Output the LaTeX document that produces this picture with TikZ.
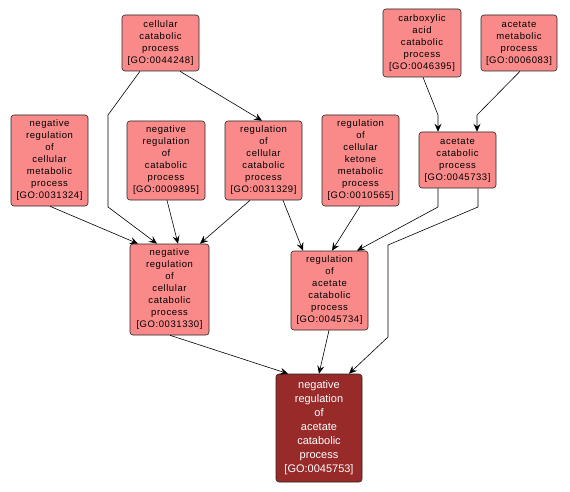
\documentclass[tikz,border=0pt]{standalone}
\usepackage{fontspec}
\setmainfont{Liberation Sans}
\newfontfamily\gofont[LetterSpace=6]{Liberation Sans}
\usetikzlibrary{arrows.meta}
\definecolor{pinkfill}{RGB}{250,138,138}
\definecolor{darkfill}{RGB}{152,42,42}
\begin{document}
\begin{tikzpicture}[x=1pt,y=-1pt,
  gobox/.style={draw=black!85, line width=0.6pt, rounded corners=3pt, fill=pinkfill,
    align=center, inner sep=0pt, font=\gofont\fontsize{9.5}{12}\selectfont, text=black},
  gofocus/.style={gobox, fill=darkfill, text=white, font=\fontsize{11}{14}\selectfont},
  arr/.style={draw=black, line width=0.6pt, -{Stealth[length=8pt,width=7pt,inset=3pt]}}]
\useasboundingbox (0,0) rectangle (570,492);
\fill[white] (0,0) rectangle (570,492);

\node[gobox, minimum width=77, minimum height=56] (A) at (160.5,43) {cellular\\catabolic\\process\\{}[GO:0044248]};
\node[gobox, minimum width=78, minimum height=68] (B) at (422,43) {carboxylic\\acid\\catabolic\\process\\{}[GO:0046395]};
\node[gobox, minimum width=76, minimum height=56] (C) at (519,43) {acetate\\metabolic\\process\\{}[GO:0006083]};
\node[gobox, minimum width=77, minimum height=91] (D) at (49.5,160.5) {negative\\regulation\\of\\cellular\\metabolic\\process\\{}[GO:0031324]};
\node[gobox, minimum width=78, minimum height=79] (E) at (166,160.5) {negative\\regulation\\of\\catabolic\\process\\{}[GO:0009895]};
\node[gobox, minimum width=77, minimum height=79] (F) at (263.5,160.5) {regulation\\of\\cellular\\catabolic\\process\\{}[GO:0031329]};
\node[gobox, minimum width=77, minimum height=91] (G) at (360.5,160.5) {regulation\\of\\cellular\\ketone\\metabolic\\process\\{}[GO:0010565]};
\node[gobox, minimum width=77, minimum height=56] (H) at (457.5,160) {acetate\\catabolic\\process\\{}[GO:0045733]};
\node[gobox, minimum width=79, minimum height=91] (I) at (169.5,289.5) {negative\\regulation\\of\\cellular\\catabolic\\process\\{}[GO:0031330]};
\node[gobox, minimum width=77, minimum height=79] (J) at (329.5,290.5) {regulation\\of\\acetate\\catabolic\\process\\{}[GO:0045734]};
\node[gofocus, minimum width=86, minimum height=108] (K) at (319,428) {negative\\regulation\\of\\acetate\\catabolic\\process\\{}[GO:0045753]};

\draw[arr] ([xshift=-20.5pt]A.south) -- (108,115) -- (108,207) -- ([xshift=-12.5pt]I.north);
\draw[arr] ([xshift=19.5pt]A.south) -- ([xshift=-1.5pt]F.north);
\draw[arr] ([xshift=0.5pt]D.south) -- ([xshift=-31.5pt]I.north);
\draw[arr] ([xshift=1pt]E.south) -- ([xshift=8.5pt]I.north);
\draw[arr] ([xshift=-13.5pt]F.south) -- ([xshift=30.5pt]I.north);
\draw[arr] ([xshift=19.5pt]F.south) -- ([xshift=-26.5pt]J.north);
\draw[arr] ([xshift=-0.5pt]G.south) -- ([xshift=2.5pt]J.north);
\draw[arr] ([xshift=-19.5pt]H.south) -- (438,207) -- ([xshift=27.5pt]J.north);
\draw[arr] ([xshift=20.5pt]H.south) -- (478,207) -- (388,245) -- (388,337) -- ([xshift=30pt]K.north);
\draw[arr] ([xshift=1pt]B.south) -- (438,115) -- ([xshift=-19.5pt]H.north);
\draw[arr] ([xshift=1pt]C.south) -- (477,115) -- ([xshift=19.5pt]H.north);
\draw[arr] ([xshift=0.5pt]I.south) -- ([xshift=-31pt]K.north);
\draw[arr] ([xshift=-0.5pt]J.south) -- (K.north);
\end{tikzpicture}
\end{document}
